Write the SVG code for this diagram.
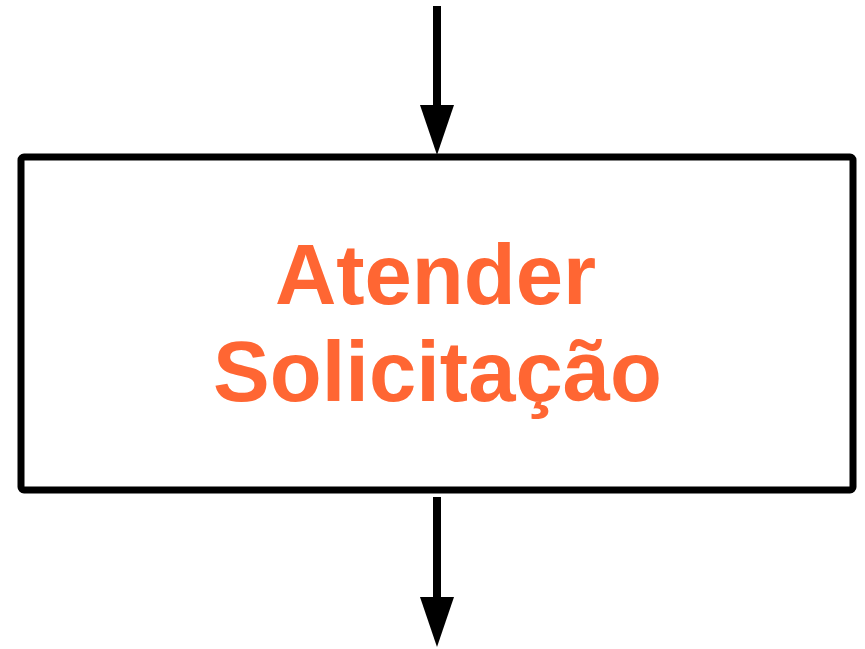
<svg xmlns="http://www.w3.org/2000/svg" width="865" height="649" viewBox="0 0 865 649">
  <style>
    .box { fill: #ffffff; stroke: #000000; stroke-width: 7; }
    .conn { stroke: #000000; stroke-width: 8; fill: none; }
    .head { fill: #000000; }
    .label { font-family: "Liberation Sans", Arial, sans-serif; font-weight: bold; font-size: 85px; fill: #FF6633; text-anchor: middle; }
  </style>
  <rect width="865" height="649" fill="#ffffff"/>
  <g id="connectors">
    <line class="conn" x1="437" y1="6" x2="437" y2="108"/>
    <polygon class="head" points="420,105 454,105 437,155"/>
    <line class="conn" x1="437" y1="497" x2="437" y2="600"/>
    <polygon class="head" points="420,597 454,597 437,647"/>
  </g>
  <g id="node-atender">
    <rect class="box" x="21" y="157" width="832" height="333" rx="3"/>
    <text class="label" x="435.5" y="304">Atender</text>
    <text class="label" x="437.5" y="401">Solicitação</text>
  </g>
</svg>
